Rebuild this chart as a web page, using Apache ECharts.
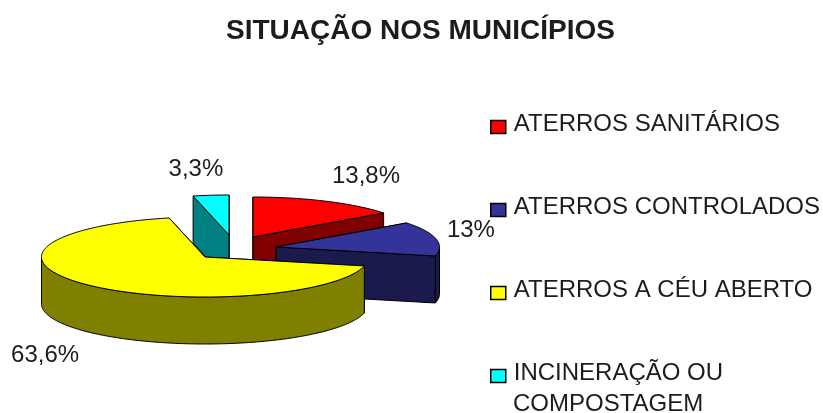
<!DOCTYPE html>
<html>
<head>
<meta charset="utf-8">
<style>html,body{margin:0;padding:0;background:#fff}#c{width:823px;height:413px}</style>
<script src="https://cdn.jsdelivr.net/npm/echarts@6/dist/echarts.min.js"></script>
</head>
<body>
<div id="c"></div>
<script>
const categories = ['ATERROS SANITÁRIOS', 'ATERROS CONTROLADOS', 'ATERROS A CÉU ABERTO', 'INCINERAÇÃO OU'];
const legendExtraLine = 'COMPOSTAGEM';
const values = [13.8, 13, 63.6, 3.3];
const valueLabels = ['13,8%', '13%', '63,6%', '3,3%'];
const topColors = ['#ff0000', '#333399', '#ffff00', '#00ffff'];
const sideColors = ['#800000', '#1a1a4d', '#808000', '#008080'];

// Layout of the tilted pie
const RX = 163.5, RY = 40, DEPTH = 47;
const BASE = {x: 205, y: 257};
const explode = [[48, -20], [71, -10], [0, 0], [24, -22]];
const labelOffset = [[40, -25], [35, -8], [-44, 70], [-15, -26]];
const stackOrder = [2, 3, 4, 1];
const FONT = '24px "Liberation Sans", Arial, sans-serif';
const INK = '#1c1c1c';
// swatch sits in the lower part of its 15x19 box, slightly below the text's middle
const SWATCH = 'path://M0 -6 L0 -6 M0 0 H15 V13 H0 Z';

const total = values.reduce((a, b) => a + b, 0);
const startOf = i => values.slice(0, i).reduce((a, b) => a + b, 0) / total * 360;

function renderSlice(idx) {
  return function (params, api) {
    const sweep = api.value(0) / total * 360;
    const a0 = startOf(idx), a1 = a0 + sweep;
    const cx = BASE.x + explode[idx][0], cy = BASE.y + explode[idx][1];
    const pt = (deg, dz) => {
      const r = deg * Math.PI / 180;
      return [cx + RX * Math.sin(r), cy - RY * Math.cos(r) + (dz || 0)];
    };
    const arc = (from, to, dz) => {
      const out = [], n = Math.max(2, Math.ceil(Math.abs(to - from)));
      for (let k = 0; k <= n; k++) out.push(pt(from + (to - from) * k / n, dz));
      return out;
    };
    const poly = (points, fill, z2) => ({
      type: 'polygon', z2: z2,
      shape: {points: points},
      style: {fill: fill, stroke: '#000', lineWidth: 1, lineJoin: 'round'}
    });
    const children = [];
    const side = sideColors[idx];
    // radial walls, farthest first
    const walls = [a0, a1].map(a => ({a: a, p: pt(a)})).sort((u, v) => u.p[1] - v.p[1]);
    walls.forEach((w, i) => {
      children.push(poly([[cx, cy], w.p, pt(w.a, DEPTH), [cx, cy + DEPTH]], side, 1 + i));
    });
    // front-facing rim
    const f0 = Math.max(a0, 90), f1 = Math.min(a1, 270);
    if (f1 > f0) {
      children.push(poly(arc(f0, f1, 0).concat(arc(f1, f0, DEPTH)), side, 4));
    }
    // top face
    children.push(poly([[cx, cy]].concat(arc(a0, a1, 0)), topColors[idx], 5));
    // value label
    const mid = pt((a0 + a1) / 2);
    children.push({
      type: 'text', z2: 10,
      style: {
        text: valueLabels[idx],
        x: mid[0] + labelOffset[idx][0], y: mid[1] + labelOffset[idx][1],
        align: 'center', verticalAlign: 'middle', font: FONT, fill: INK
      }
    });
    return {type: 'group', children: children};
  };
}

const chart = echarts.init(document.getElementById('c'), null, {renderer: 'canvas'});
chart.setOption({
  animation: false,
  backgroundColor: '#ffffff',
  title: {
    text: 'SITUAÇÃO NOS MUNICÍPIOS',
    left: 226, top: 17, padding: 0,
    textStyle: {fontFamily: '"Liberation Sans", Arial, sans-serif', fontSize: 28, fontWeight: 'bold', color: INK}
  },
  legend: {
    orient: 'vertical',
    left: 490, top: 112, padding: 0,
    itemWidth: 15, itemHeight: 19, itemGap: 59,
    selectedMode: false,
    textStyle: {fontFamily: '"Liberation Sans", Arial, sans-serif', fontSize: 24, color: INK, padding: [0, 0, 0, 3]},
    data: categories.map((name, i) => ({
      name: name, icon: SWATCH,
      itemStyle: {color: topColors[i], borderColor: '#000', borderWidth: 1.5}
    }))
  },
  graphic: [{
    type: 'text', left: 513, top: 392,
    style: {text: legendExtraLine, font: FONT, fill: INK}
  }],
  series: categories.map((name, i) => ({
    type: 'custom',
    name: name,
    coordinateSystem: 'none',
    z: stackOrder[i],
    itemStyle: {color: topColors[i]},
    renderItem: renderSlice(i),
    data: [[values[i]]]
  }))
});
</script>
</body>
</html>
